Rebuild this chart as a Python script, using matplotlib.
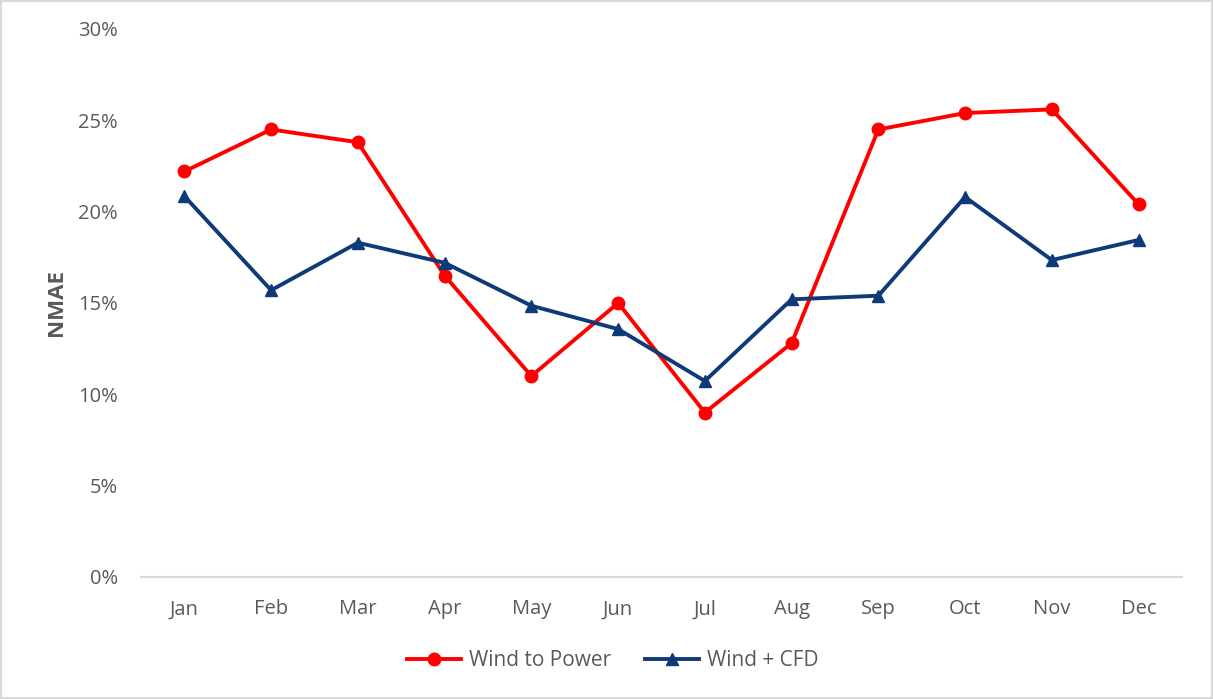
import matplotlib
matplotlib.use("Agg")
import matplotlib.pyplot as plt
from matplotlib.ticker import FuncFormatter, MultipleLocator

months = ["Jan", "Feb", "Mar", "Apr", "May", "Jun", "Jul", "Aug", "Sep", "Oct", "Nov", "Dec"]
wind_to_power = [22.2, 24.5, 23.8, 16.5, 11.0, 15.0, 9.0, 12.8, 24.5, 25.4, 25.6, 20.4]
wind_cfd = [20.85, 15.7, 18.3, 17.2, 14.85, 13.57, 10.73, 15.2, 15.4, 20.8, 17.35, 18.45]

plt.rcParams['font.family'] = ['Open Sans', 'DejaVu Sans']
txt = '#595959'

fig = plt.figure(figsize=(12.13, 6.99), dpi=100)
ax = fig.add_axes([141/1213, 1-577/699, (1182-141)/1213, (577-29)/699])

x = list(range(len(months)))
ax.plot(x, [v/100 for v in wind_to_power], color='#FF0000', lw=2.8, marker='o', ms=9, label='Wind to Power')
ax.plot(x, [v/100 for v in wind_cfd], color='#0E3A7A', lw=2.8, marker='^', ms=9, label='Wind + CFD')

ax.set_xlim(-0.5, 11.5)
ax.set_ylim(0, 0.30)
ax.yaxis.set_major_locator(MultipleLocator(0.05))
ax.yaxis.set_major_formatter(FuncFormatter(lambda v, p: f"{v*100:.0f}%"))
ax.set_xticks(x)
ax.set_xticklabels(months)
for s in ['top', 'right', 'left']:
    ax.spines[s].set_visible(False)
ax.spines['bottom'].set_color('#D9D9D9')
ax.spines['bottom'].set_linewidth(1.5)
ax.tick_params(axis='both', length=0, labelsize=14.5, labelcolor=txt)
ax.tick_params(axis='y', pad=16.5)
ax.tick_params(axis='x', pad=16)
ax.set_ylabel('NMAE', fontsize=16, fontweight='bold', color=txt, labelpad=8)

leg = fig.legend(loc='center', bbox_to_anchor=(0.505, 1-661/699), ncol=2, frameon=False,
                 fontsize=15, labelcolor=txt, handlelength=2.6, columnspacing=1.6, handletextpad=0.4)

fig.patches.append(plt.Rectangle((0.001, 0.001), 0.998, 0.997, transform=fig.transFigure,
                                 fill=False, edgecolor='#D9D9D9', lw=1.5))
fig.savefig('out.png', dpi=100)
